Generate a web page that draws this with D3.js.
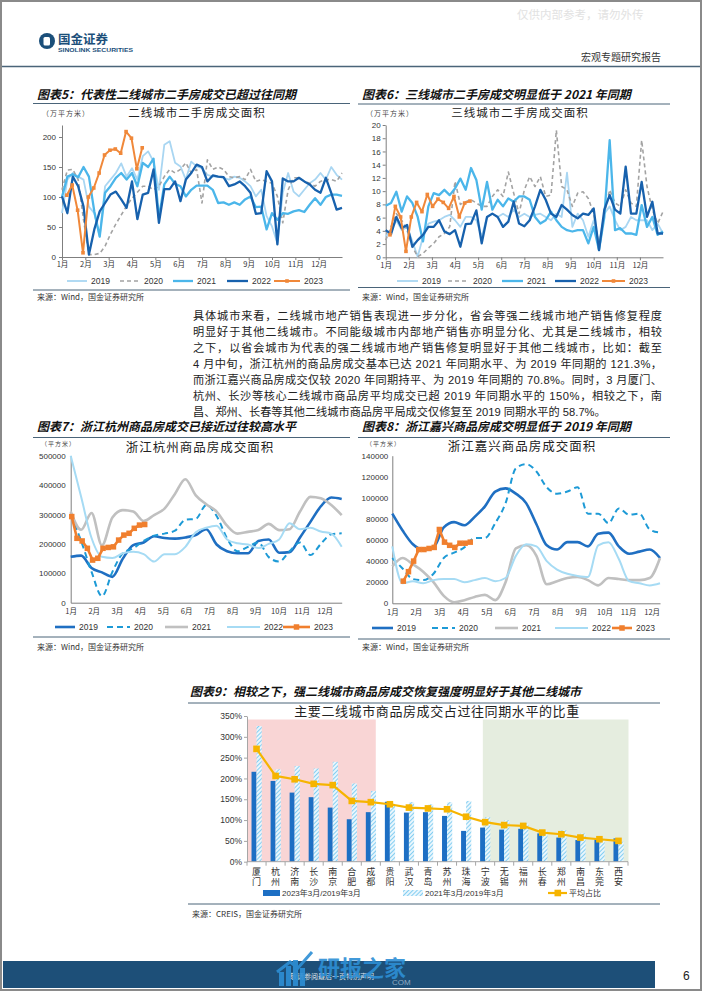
<!DOCTYPE html>
<html><head><meta charset="utf-8">
<script src="https://cdn.jsdelivr.net/npm/d3@7"></script>
<style>
body{margin:0;background:#fff;}
svg text{font-family:"Liberation Sans","Noto Sans CJK SC",sans-serif;}
</style></head><body>
<svg id="page" width="702" height="991"></svg>
<script>
// ---------------- DATA ----------------
const months = ['1月','2月','3月','4月','5月','6月','7月','8月','9月','10月','11月','12月'];
const years = ['2019','2020','2021','2022','2023'];

// 图表5 二线城市二手房成交面积 (万平方米, weekly)
const sec2_2019 = [73,129,140,134,129,84,73,34,118,129,140,156,134,148,129,168,176,159,112,187,193,157,151,129,159,151,148,137,134,134,132,129,134,132,126,118,101,112,68,51,23,107,140,109,101,112,123,129,140,129,150,137,129];
const sec2_2020 = [112,145,146,129,62,4,4,6,18,38,55,70,85,98,108,118,118,112,118,134,146,140,146,157,140,146,90,162,146,150,146,134,132,134,129,146,126,129,126,123,101,57,112,132,132,126,123,118,126,129,129,126,140];
const sec2_2021 = [100,134,138,133,150,134,76,34,107,118,132,140,129,140,118,157,150,164,65,121,134,122,118,101,112,119,119,119,112,90,91,87,91,87,96,101,83,84,46,73,62,73,72,76,78,75,87,98,87,100,104,104,102];
const sec2_2022 = [101,73,134,118,84,4,46,76,90,104,109,96,82,126,63,104,107,146,57,113,113,126,93,129,140,154,150,126,136,134,133,118,121,126,118,107,72,73,143,126,21,131,126,126,132,126,121,112,107,132,107,79,82];
const sec2_2023 = [103,120,78,7,100,115,140,170,178,180,173,209,198,147,182];

// 图表6 三线城市二手房成交面积 (万平方米, weekly)
const sec3_2019 = [3.1,4.1,5.6,4.1,4.6,2.4,0.1,3.1,5.1,5.4,5.6,6.1,6.4,5.6,4.6,6.1,6.1,5.6,3.1,6.1,6.6,6.1,6.6,6.1,7.2,6.1,6.6,6.1,6.4,6.6,6.1,5.6,6.6,6.1,12.8,4.6,6.6,5.6,3.1,5.6,2.1,6.6,7.7,5.6,4.1,4.6,6.1,5.6,5.6,5.6,4.1,5.1,3.6];
const sec3_2020 = [2.6,4.6,6.6,5.6,4.1,1.6,0.1,0.6,1.4,2.1,3.1,3.6,4.6,11.5,8.0,8.4,8.7,8.2,7.7,7.7,9.2,10.2,9.2,12.9,9.7,6.6,10.2,12.2,10.7,12.2,9.2,9.4,19.2,10.7,10.2,7.7,9.7,9.9,8.9,6.6,1.6,6.6,10.2,8.2,7.7,10.2,8.2,7.7,17.7,10.7,7.2,5.1,6.9];
const sec3_2021 = [7.8,8.2,9.9,6.9,9.2,8.2,6.1,2.4,7.7,9.7,9.4,10.2,9.4,10.4,11.9,10.2,13.5,11.7,7.2,11.4,7.2,8.7,7.7,8.9,8.4,9.2,9.2,8.7,6.1,5.1,5.6,6.9,5.6,4.6,4.1,3.9,4.1,4.1,2.1,4.6,1.1,6.1,17.7,4.1,4.4,3.6,3.6,3.4,7.9,4.6,6.1,3.4,3.9];
const sec3_2022 = [4.1,3.5,6.1,4.4,4.9,1.6,2.6,3.4,4.6,4.6,5.6,3.9,3.5,4.1,1.6,5.0,5.1,7.1,2.1,6.1,6.6,6.1,4.6,5.4,8.4,5.1,4.7,5.6,7.7,10.2,8.7,6.6,6.1,7.9,7.2,6.4,5.9,6.6,6.4,7.4,1.1,7.2,9.4,7.2,6.6,13.7,6.6,6.6,11.4,6.1,8.4,3.6,3.6];
const sec3_2023 = [3.4,7.7,6.1,0.9,6.1,8.3,6.9,9.5,7.7,8.8,8.3,7.4,9.2,6.1,8.2,8.5];

// 图表7 浙江杭州商品房成交面积 (平方米, two-weekly; 2023 weekly)
const hz_2019 = [156000,160000,118000,103000,88000,150000,196000,205000,226000,220000,218000,222000,230000,250000,198000,175000,168000,168000,210000,215000,170000,172000,222000,275000,328000,358000,353000];
const hz_2020 = [298000,210000,105000,22000,105000,168000,185000,210000,228000,235000,245000,282000,285000,332000,295000,219000,175000,190000,205000,155000,140000,175000,205000,162000,200000,233000,236000];
const hz_2021 = [310000,248000,305000,195000,290000,315000,310000,278000,298000,320000,370000,420000,365000,335000,310000,262000,235000,241000,247000,268000,247000,250000,310000,360000,355000,332000,298000];
const hz_2022 = [500000,360000,220000,156000,152000,168000,173000,165000,140000,165000,165000,190000,240000,255000,262000,215000,202000,198000,186000,200000,215000,270000,250000,255000,242000,235000,190000];
const hz_2023 = [293000,219000,210000,185000,145000,151000,185000,188000,190000,213000,230000,236000,253000,264000,266000];

// 图表8 浙江嘉兴商品房成交面积 (平方米)
const jx_2019 = [85000,69000,56000,51000,53000,72000,77000,74000,82000,92000,106000,109000,104000,95000,75000,55000,51000,58000,58000,54000,66000,67000,54000,47000,49000,51000,43000];
const jx_2020 = [43000,33000,23000,22000,28000,43000,48000,53000,62000,62000,76000,95000,128000,132000,125000,110000,104000,106000,110000,85000,85000,76000,90000,84000,85000,70000,67000];
const jx_2021 = [35000,43000,37000,30000,20000,7000,1000,3000,6000,8000,3000,20000,52000,55000,45000,18000,21000,24000,25000,22000,17000,24000,23000,22000,22000,24000,43000];
const jx_2022 = [54000,19000,21000,19000,22000,23000,23000,20000,22000,24000,21000,24000,45000,56000,54000,40000,32000,28000,26000,25000,55000,58000,42000,21000,19000,17000,19000];
const jx_2023 = [21000,30000,40000,51000,51000,52000,53000,70000,58000,55000,53000,57000,57000,58000];

// 图表9
const cities = ['厦门','杭州','济南','长沙','南京','合肥','成都','贵阳','武汉','青岛','苏州','珠海','宁波','无锡','福州','长春','郑州','南昌','东莞','西安'];
const ratio2023 = [216,194,166,155,130,102,119,144,118,119,110,74,82,77,79,68,58,52,54,56];
const ratio2021 = [326,222,230,224,240,188,170,139,143,138,143,146,107,100,92,75,76,68,54,48];
const ratioAvg  = [271,206,198,187,184,146,143,138,130,128,126,108,95,88,86,70,66,58,54,50];
const pctTicks = [0,50,100,150,200,250,300,350];
const seriesNames9 = ['2023年3月/2019年3月','2021年3月/2019年3月','平均占比'];

// ---------------- PAGE ----------------
const svg = d3.select('#page');
const CJK = '"Noto Sans CJK SC",sans-serif';
const LAT = '"Liberation Sans","Noto Sans CJK SC",sans-serif';

svg.append('rect').attr('x',1).attr('y',1).attr('width',700).attr('height',989)
  .attr('fill','#fff').attr('stroke','#8a8a8a').attr('stroke-width',2);

// header
svg.append('text').attr('x',517).attr('y',19).text('仅供内部参考，请勿外传')
  .style('font-family',CJK).style('font-size','11.5px').attr('fill','#e2e2e2');
svg.append('circle').attr('cx',47).attr('cy',41).attr('r',8).attr('fill','#1b4f7a');
svg.append('rect').attr('x',43.5).attr('y',37).attr('width',6.5).attr('height',8.5).attr('rx',1.5).attr('fill','#fff');
svg.append('text').attr('x',58).attr('y',44).text('国金证券').style('font-family',CJK)
  .style('font-size','12.5px').style('font-weight','700').attr('fill','#1b4f7a');
svg.append('text').attr('x',58).attr('y',52).text('SINOLINK SECURITIES').style('font-family',LAT)
  .style('font-size','5.5px').style('font-weight','700').attr('fill','#1b4f7a')
  .attr('textLength',75).attr('lengthAdjust','spacingAndGlyphs');
svg.append('text').attr('x',581).attr('y',61).text('宏观专题研究报告').style('font-family',CJK)
  .style('font-size','10px').attr('fill','#333');
svg.append('line').attr('x1',2).attr('x2',700).attr('y1',66.5).attr('y2',66.5)
  .attr('stroke','#4a6479').attr('stroke-width',1.3);

function figTitle(x, y, txt, lx1, lx2, ly){
  svg.append('text').attr('x',x).attr('y',y).text(txt).style('font-family',CJK)
    .style('font-size','12px').style('font-weight','700').style('font-style','italic').attr('fill','#111');
  svg.append('line').attr('x1',lx1).attr('x2',lx2).attr('y1',ly).attr('y2',ly)
    .attr('stroke','#4a6479').attr('stroke-width',1);
}
function source(x, y, txt, lx1, lx2, ly){
  svg.append('line').attr('x1',lx1).attr('x2',lx2).attr('y1',ly).attr('y2',ly)
    .attr('stroke','#4a6479').attr('stroke-width',1);
  svg.append('text').attr('x',x).attr('y',y).text(txt).style('font-family',CJK)
    .style('font-size','8px').attr('fill','#333');
}

// ---------------- LINE CHARTS ----------------
function lineChart(o){
  const g = svg.append('g');
  const x = d3.scaleLinear().domain([0,52]).range([o.x0,o.x1]);
  const y = d3.scaleLinear().domain([0,o.yMax]).range([o.yBot,o.yTop]);
  g.append('text').attr('x',o.unitX).attr('y',o.unitY).text(o.unit).style('font-family',CJK)
    .style('font-size',o.unitSize+'px').style('letter-spacing','1px').attr('fill','#444');
  g.append('text').attr('x',o.titleX).attr('y',o.titleY).attr('text-anchor','middle').text(o.title)
    .style('font-family',CJK).style('font-size',o.titleSize+'px').style('letter-spacing','1px').attr('fill','#222');
  const yAx = d3.axisLeft(y).tickValues(o.yTicks).tickSize(o.yTick).tickSizeOuter(0)
    .tickPadding(o.yPad).tickFormat(d3.format('d'));
  const yg = g.append('g').attr('transform',`translate(${o.x0},0)`).call(yAx);
  const xAx = d3.axisBottom(x).tickValues(months.map((m,i)=>i*o.mStep))
    .tickFormat((d,i)=>months[i]).tickSize(o.xTick).tickSizeOuter(0).tickPadding(o.xPad);
  const xg = g.append('g').attr('transform',`translate(0,${o.yBot})`).call(xAx);
  [yg,xg].forEach(a=>{
    a.select('.domain').attr('stroke','#7f7f7f').attr('stroke-width',1);
    a.selectAll('.tick line').attr('stroke','#7f7f7f');
    a.selectAll('.tick text').style('font-family',LAT).style('font-size','8px').attr('fill','#333');
  });
  xg.selectAll('.tick text').style('font-family',CJK).style('font-size','7.5px');
  o.series.forEach(s=>{
    const n = s.values.length;
    const step = s.step != null ? s.step : 52/(n-1);
    const pts = s.values.map((v,i)=>[ (s.start||0) + i*step, v ]);
    const line = d3.line().x(d=>x(d[0])).y(d=>y(d[1])).curve(s.curve||d3.curveLinear);
    g.append('path').datum(pts).attr('d',line).attr('fill','none')
      .attr('stroke',s.color).attr('stroke-width',s.width)
      .attr('stroke-dasharray',s.dash||null).attr('stroke-linejoin','round');
    if(s.marker){
      g.selectAll(null).data(pts).enter().append('rect')
        .attr('x',d=>x(d[0])-s.marker/2).attr('y',d=>y(d[1])-s.marker/2)
        .attr('width',s.marker).attr('height',s.marker).attr('fill',s.color);
    }
  });
  o.series.forEach((s,i)=>{
    const lx = o.legX[i], len = o.legLen[i], ly = o.legY;
    g.append('line').attr('x1',lx).attr('x2',lx+len).attr('y1',ly).attr('y2',ly)
      .attr('stroke',s.color).attr('stroke-width',s.width).attr('stroke-dasharray',s.dash||null);
    if(s.marker){
      g.append('rect').attr('x',lx+len/2-s.marker/2).attr('y',ly-s.marker/2)
        .attr('width',s.marker).attr('height',s.marker).attr('fill',s.color);
    }
    g.append('text').attr('x',lx+len+4).attr('y',ly+3).text(years[i])
      .style('font-family',LAT).style('font-size','8.5px').attr('fill','#333');
  });
}

const sty1 = [
  {color:'#a9d6f2', width:1.8},
  {color:'#a3a3a3', width:1.6, dash:'4,3'},
  {color:'#4bb6ea', width:2.3},
  {color:'#1761ad', width:2.3},
  {color:'#f0883a', width:2, marker:3.6}
];
const sty2 = [
  {color:'#1f6fc2', width:2.6, curve:d3.curveMonotoneX},
  {color:'#1d9ad6', width:2, dash:'6,4', curve:d3.curveMonotoneX},
  {color:'#c0c0c0', width:2.6, curve:d3.curveMonotoneX},
  {color:'#a6dbf4', width:2, curve:d3.curveMonotoneX},
  {color:'#f07f2e', width:2.6, marker:5.5}
];

// 图表5
figTitle(37, 99, '图表5：代表性二线城市二手房成交已超过往同期', 33, 350, 103.5);
lineChart({
  x0:62, x1:342, yTop:125, yBot:257, yMax:220, yTicks:[0,50,100,150,200], yTick:3, yPad:3,
  xTick:3, xPad:2, mStep:52/12,
  unit:'（万平方米）', unitX:42, unitY:116, unitSize:7,
  title:'二线城市二手房成交面积', titleX:197, titleY:117, titleSize:11.5,
  legX:[67,120,173,227,274], legLen:[20,20,20,21,26], legY:281,
  series:[sec2_2019,sec2_2020,sec2_2021,sec2_2022,sec2_2023].map((v,i)=>Object.assign({values:v}, sty1[i], i===4?{start:0.9,step:1}:{}))
});
source(37, 300, '来源：Wind，国金证券研究所', 33, 350, 290);

// 图表6
figTitle(362, 99, '图表6：三线城市二手房成交明显低于 2021 年同期', 358, 670, 104);
lineChart({
  x0:385.7, x1:663, yTop:125, yBot:257.3, yMax:20, yTicks:[0,2,4,6,8,10,12,14,16,18,20], yTick:3, yPad:2,
  xTick:3, xPad:2, mStep:52/12,
  unit:'（万平方米）', unitX:366, unitY:116, unitSize:7,
  title:'三线城市二手房成交面积', titleX:520, titleY:117, titleSize:11.5,
  legX:[397,448,502,555,602], legLen:[21,21,21,21,23], legY:281,
  series:[sec3_2019,sec3_2020,sec3_2021,sec3_2022,sec3_2023].map((v,i)=>Object.assign({values:v}, sty1[i], i===4?{start:0.8,step:1}:{}))
});
source(362, 300, '来源：Wind，国金证券研究所', 358, 670, 287.5);

// paragraph
const para = [
  '具体城市来看，二线城市地产销售表现进一步分化，省会等强二线城市地产销售修复程度',
  '明显好于其他二线城市。不同能级城市内部地产销售亦明显分化、尤其是二线城市，相较',
  '之下，以省会城市为代表的强二线城市地产销售修复明显好于其他二线城市，比如：截至',
  '4 月中旬，浙江杭州的商品房成交基本已达 2021 年同期水平、为 2019 年同期的 121.3%，',
  '而浙江嘉兴商品房成交仅较 2020 年同期持平、为 2019 年同期的 70.8%。同时，3 月厦门、',
  '杭州、长沙等核心二线城市商品房平均成交已超 2019 年同期水平的 150%，相较之下，南',
  '昌、郑州、长春等其他二线城市商品房平局成交仅修复至 2019 同期水平的 58.7%。'
];
para.forEach((t,i)=>{
  const tx = svg.append('text').attr('x',193).attr('y',320+i*16).text(t)
    .style('font-family','"Liberation Sans Narrow","Liberation Sans","Noto Sans CJK SC",sans-serif')
    .style('font-size','11.2px').attr('fill','#222');
  if(i<6) tx.attr('textLength',469).attr('lengthAdjust','spacing');
});

// 图表7
figTitle(37, 431, '图表7：浙江杭州商品房成交已接近过往较高水平', 33, 350, 437.5);
lineChart({
  x0:70.7, x1:341.7, yTop:455.7, yBot:602.7, yMax:500000, yTicks:[0,100000,200000,300000,400000,500000], yTick:0, yPad:5,
  xTick:0, xPad:6, mStep:4.43,
  unit:'（平方米）', unitX:41, unitY:446, unitSize:6,
  title:'浙江杭州商品房成交面积', titleX:200, titleY:452, titleSize:12.5,
  legX:[55,107,165,227,283], legLen:[20,23,23,33,27], legY:627,
  series:[hz_2019,hz_2020,hz_2021,hz_2022,hz_2023].map((v,i)=>Object.assign({values:v}, sty2[i], i===4?{start:0.2,step:1}:{}))
});
source(37, 650, '来源：Wind，国金证券研究所', 33, 350, 637);

// 图表8
figTitle(362, 431, '图表8：浙江嘉兴商品房成交明显低于 2019 年同期', 358, 670, 437.5);
lineChart({
  x0:392.3, x1:660, yTop:455.7, yBot:603.3, yMax:140000, yTicks:[0,20000,40000,60000,80000,100000,120000,140000], yTick:0, yPad:4,
  xTick:0, xPad:6, mStep:4.58,
  unit:'（平方米）', unitX:366, unitY:446, unitSize:6,
  title:'浙江嘉兴商品房成交面积', titleX:522, titleY:451, titleSize:12.5,
  legX:[372,432,495,555,612], legLen:[21,23,23,33,20], legY:628,
  series:[jx_2019,jx_2020,jx_2021,jx_2022,jx_2023].map((v,i)=>Object.assign({values:v}, sty2[i], i===4?{start:2.14,step:1}:{}))
});
source(362, 650, '来源：Wind，国金证券研究所', 358, 670, 639);

// ---------------- 图表9 ----------------
figTitle(190, 696, '图表9：相较之下，强二线城市商品房成交恢复强度明显好于其他二线城市', 188, 660, 703);
(function(){
  const g = svg.append('g');
  const defs = svg.append('defs');
  const pat = defs.append('pattern').attr('id','hatch').attr('patternUnits','userSpaceOnUse')
    .attr('width',3).attr('height',3).attr('patternTransform','rotate(45)');
  pat.append('rect').attr('width',3).attr('height',3).attr('fill','#e8f6fd');
  pat.append('line').attr('x1',0).attr('y1',0).attr('x2',0).attr('y2',3).attr('stroke','#6cc4ef').attr('stroke-width',1.6);

  const xb = d3.scaleBand().domain(cities).range([247,628]);
  const yb = d3.scaleLinear().domain([0,350]).range([861.7,716]);
  const bw = xb.bandwidth();
  const top = yb.range()[1]+3.5;
  g.append('rect').attr('x',xb(cities[0])+1).attr('y',top)
    .attr('width',xb(cities[6])+bw*0.76-xb(cities[0])-1).attr('height',yb(0)-top).attr('fill','#f9d5d5');
  g.append('rect').attr('x',xb(cities[12])+bw*0.38).attr('y',top)
    .attr('width',628.5-(xb(cities[12])+bw*0.38)).attr('height',yb(0)-top).attr('fill','#e5eddf');

  g.append('text').attr('x',437).attr('y',716).attr('text-anchor','middle')
    .text('主要二线城市商品房成交占过往同期水平的比重').style('font-family',CJK)
    .style('font-size','13px').style('letter-spacing','0.6px').attr('fill','#222');

  const yAx = d3.axisLeft(yb).tickValues(pctTicks).tickSize(3).tickSizeOuter(0).tickPadding(2).tickFormat(d=>d+'%');
  const yg = g.append('g').attr('transform','translate(247,0)').call(yAx);
  yg.select('.domain').attr('stroke','#a6a6a6');
  yg.selectAll('.tick line').attr('stroke','#a6a6a6');
  yg.selectAll('.tick text').style('font-family',LAT).style('font-size','8.5px').attr('fill','#333');

  g.selectAll(null).data(ratio2023).enter().append('rect')
    .attr('x',(d,i)=>xb(cities[i])+bw/2-5).attr('y',d=>yb(d))
    .attr('width',5).attr('height',d=>yb(0)-yb(d)).attr('fill','#1d6fc4');
  g.selectAll(null).data(ratio2021).enter().append('rect')
    .attr('x',(d,i)=>xb(cities[i])+bw/2).attr('y',d=>yb(d))
    .attr('width',5.2).attr('height',d=>yb(0)-yb(d)).attr('fill','url(#hatch)');

  const xg = g.append('g').attr('transform','translate(0,861.7)');
  xg.append('line').attr('x1',247).attr('x2',628).attr('stroke','#a6a6a6');
  xg.selectAll(null).data(cities.concat(['end'])).enter().append('line')
    .attr('x1',(d,i)=>247+i*bw).attr('x2',(d,i)=>247+i*bw).attr('y1',0).attr('y2',4).attr('stroke','#a6a6a6');
  cities.forEach(c=>{
    xg.append('text').attr('x',xb(c)+bw/2).attr('y',5).text(c)
      .style('font-family',CJK).style('font-size','9px')
      .style('writing-mode','vertical-rl').style('letter-spacing','1.5px')
      .attr('fill','#333');
  });

  const ln = d3.line().x((d,i)=>xb(cities[i])+bw/2).y(d=>yb(d));
  g.append('path').datum(ratioAvg).attr('d',ln).attr('fill','none')
    .attr('stroke','#f6b400').attr('stroke-width',2.2);
  g.selectAll(null).data(ratioAvg).enter().append('rect')
    .attr('x',(d,i)=>xb(cities[i])+bw/2-3.3).attr('y',d=>yb(d)-3.3)
    .attr('width',6.6).attr('height',6.6).attr('fill','#f6b400');

  const ly = 893;
  g.append('rect').attr('x',263).attr('y',ly-3).attr('width',17).attr('height',6).attr('fill','#1d6fc4');
  g.append('text').attr('x',282).attr('y',ly+3).text(seriesNames9[0]).style('font-family',LAT).style('font-size','8px').attr('fill','#333');
  g.append('rect').attr('x',403).attr('y',ly-3).attr('width',20).attr('height',6).attr('fill','url(#hatch)');
  g.append('text').attr('x',425).attr('y',ly+3).text(seriesNames9[1]).style('font-family',LAT).style('font-size','8px').attr('fill','#333');
  g.append('line').attr('x1',548).attr('x2',567).attr('y1',ly).attr('y2',ly).attr('stroke','#f6b400').attr('stroke-width',2.2);
  g.append('rect').attr('x',554.5).attr('y',ly-3.3).attr('width',6.6).attr('height',6.6).attr('fill','#f6b400');
  g.append('text').attr('x',569).attr('y',ly+3).text(seriesNames9[2]).style('font-family',CJK).style('font-size','8px').attr('fill','#333');
})();
source(192, 917, '来源：CREIS，国金证券研究所', 188, 660, 904);

// ---------------- FOOTER ----------------
svg.append('rect').attr('x',3).attr('y',961).attr('width',652).attr('height',27).attr('fill','#1d4f78');
svg.append('text').attr('x',683).attr('y',980).text('6').style('font-family',LAT).style('font-size','12px').attr('fill','#222');
svg.append('text').attr('x',290).attr('y',979).text('敬请参阅最后一页特别声明').style('font-family',CJK)
  .style('font-size','7px').attr('fill','#dde6ee');
const wm = svg.append('g').attr('opacity',0.9);
[[279,14],[286,20],[293,26],[300,18]].forEach(b=>{
  wm.append('rect').attr('x',b[0]).attr('y',986-b[1]).attr('width',5).attr('height',b[1]).attr('fill','#2d8fd5');
});
wm.append('path').attr('d','M277 972 L290 962 L298 968 L312 952').attr('fill','none').attr('stroke','#2d8fd5').attr('stroke-width',3);
wm.append('text').attr('x',318).attr('y',976).text('研报之家').style('font-family',CJK)
  .style('font-size','22px').style('font-weight','700').attr('fill','#2d8fd5');
wm.append('text').attr('x',392).attr('y',985).text('COM').style('font-family',LAT)
  .style('font-size','8px').attr('fill','#9fb7cc');
</script>
</body></html>
